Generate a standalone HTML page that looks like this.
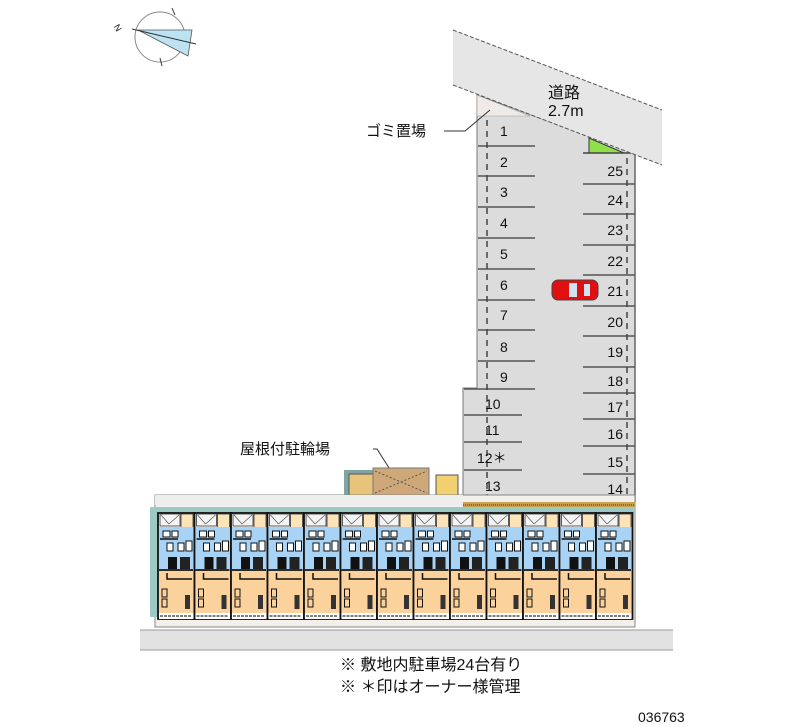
<!DOCTYPE html>
<html><head><meta charset="utf-8"><style>
html,body{margin:0;padding:0;background:#fff;}
svg{display:block;}
text{font-family:"Liberation Sans","Noto Sans CJK JP",sans-serif;fill:#111;}
</style></head><body>
<svg width="800" height="727" viewBox="0 0 800 727" xmlns="http://www.w3.org/2000/svg">
<defs>
<g id="unit">
  <rect x="0" y="0" width="36.5" height="106" fill="#fff" stroke="#111" stroke-width="1.8"/>
  <rect x="2" y="1" width="20" height="12" fill="#f4f4f4" stroke="#333" stroke-width="0.8"/>
  <line x1="3" y1="2" x2="11" y2="11" stroke="#555" stroke-width="0.7"/>
  <line x1="21" y1="2" x2="11" y2="11" stroke="#555" stroke-width="0.7"/>
  <rect x="23" y="1" width="12" height="20" fill="#fde4b8" stroke="#333" stroke-width="0.8"/>
  <rect x="1" y="14" width="34.5" height="42" fill="#a9d3f5"/>
  <rect x="5" y="18" width="7" height="6" fill="#fff" stroke="#111" stroke-width="1"/>
  <rect x="14" y="18" width="6" height="6" fill="#fff" stroke="#111" stroke-width="1"/>
  <rect x="9" y="30" width="6" height="8" fill="#fff" stroke="#111" stroke-width="1"/>
  <rect x="20" y="30" width="6" height="8" fill="#fff" stroke="#111" stroke-width="1"/>
  <rect x="28" y="28" width="6" height="10" fill="#fff" stroke="#111" stroke-width="1"/>
  <rect x="10" y="44" width="9" height="12" fill="#111"/>
  <rect x="22" y="44" width="10" height="12" fill="#222"/>
  <line x1="2" y1="26" x2="20" y2="26" stroke="#111" stroke-width="1.5"/>
  <rect x="1" y="57" width="34.5" height="43" fill="#fbd29b"/>
  <line x1="1" y1="57" x2="35" y2="57" stroke="#111" stroke-width="1.8"/>
  <polyline points="9,60 9,66 34,66" fill="none" stroke="#111" stroke-width="1.5"/>
  <rect x="4" y="76" width="5" height="8" fill="none" stroke="#111" stroke-width="1"/>
  <rect x="4" y="86" width="5" height="8" fill="none" stroke="#111" stroke-width="1"/>
  <rect x="27" y="82" width="5" height="14" fill="#333"/>
  <rect x="1" y="100" width="34.5" height="6" fill="#fff"/>
  <line x1="2" y1="103" x2="34" y2="103" stroke="#555" stroke-width="1.5" stroke-dasharray="3,1"/>
</g>
</defs>

<!-- compass -->
<circle cx="160" cy="37" r="25" fill="none" stroke="#888" stroke-width="1"/>
<polygon points="138,30 192,30 188,56" fill="#bde3f2" stroke="#555" stroke-width="0.8"/>
<line x1="132" y1="29" x2="196" y2="44" stroke="#333" stroke-width="1"/>
<line x1="172" y1="8" x2="175" y2="15" stroke="#444"/>
<line x1="160" y1="58" x2="162" y2="66" stroke="#444"/>
<text x="115" y="32" font-size="9" transform="rotate(60 119 28)">N</text>

<!-- lot -->
<polygon points="477,95 477,388 463,388 463,502 635,502 635,153 477,95" fill="#dcdcdc" stroke="#777" stroke-width="1"/>
<polygon points="477,95 530,116 477,116" fill="#efeae6" stroke="#999" stroke-width="0.6"/>
<polygon points="589,138 589,153 624,153" fill="#8fe04a" stroke="#333" stroke-width="1"/>
<line x1="583" y1="153" x2="635" y2="153" stroke="#444" stroke-width="1.5"/>
<line x1="635" y1="153" x2="635" y2="502" stroke="#666" stroke-width="1.5"/>

<!-- road -->
<polygon points="453,30 662,110 662,165 453,85" fill="#e6e6e6" stroke="none"/>
<line x1="453" y1="30" x2="662" y2="110" stroke="#555" stroke-width="1" stroke-dasharray="4,2"/>
<line x1="453" y1="85" x2="662" y2="165" stroke="#555" stroke-width="1" stroke-dasharray="4,2"/>
<text x="548" y="98" font-size="16">道路</text>
<text x="548" y="116" font-size="16">2.7m</text>

<g stroke="#555" stroke-width="1.5">
<line x1="478" y1="146" x2="535" y2="146"/><line x1="478" y1="176" x2="535" y2="176"/>
<line x1="478" y1="207" x2="535" y2="207"/><line x1="478" y1="238" x2="535" y2="238"/>
<line x1="478" y1="269" x2="535" y2="269"/><line x1="478" y1="300" x2="535" y2="300"/>
<line x1="478" y1="330" x2="535" y2="330"/><line x1="478" y1="361" x2="535" y2="361"/>
<line x1="464" y1="389" x2="535" y2="389"/><line x1="464" y1="415" x2="522" y2="415"/>
<line x1="464" y1="442" x2="522" y2="442"/><line x1="464" y1="470" x2="522" y2="470"/>
<line x1="464" y1="497" x2="522" y2="497"/>
<line x1="583" y1="184" x2="635" y2="184"/><line x1="583" y1="214" x2="635" y2="214"/>
<line x1="583" y1="245" x2="635" y2="245"/><line x1="583" y1="275" x2="635" y2="275"/>
<line x1="583" y1="306" x2="635" y2="306"/><line x1="583" y1="336" x2="635" y2="336"/>
<line x1="583" y1="367" x2="635" y2="367"/><line x1="583" y1="393" x2="635" y2="393"/>
<line x1="583" y1="419" x2="635" y2="419"/><line x1="583" y1="446" x2="635" y2="446"/>
<line x1="583" y1="474" x2="635" y2="474"/>
</g>
<line x1="487" y1="120" x2="487" y2="500" stroke="#444" stroke-width="1.5" stroke-dasharray="6,5"/>
<line x1="627" y1="158" x2="627" y2="500" stroke="#444" stroke-width="1.5" stroke-dasharray="6,5"/>

<g font-size="14">
<text x="500" y="136">1</text><text x="500" y="167">2</text><text x="500" y="197">3</text>
<text x="500" y="228">4</text><text x="500" y="259">5</text><text x="500" y="290">6</text>
<text x="500" y="320">7</text><text x="500" y="352">8</text><text x="500" y="382">9</text>
<text x="485" y="409">10</text><text x="485" y="435">11</text><text x="477" y="463">12＊</text>
<text x="485" y="491">13</text>
<g text-anchor="end">
<text x="623" y="176">25</text><text x="623" y="205">24</text><text x="623" y="235">23</text>
<text x="623" y="266">22</text><text x="623" y="296">21</text><text x="623" y="327">20</text>
<text x="623" y="357">19</text><text x="623" y="386">18</text><text x="623" y="412">17</text>
<text x="623" y="439">16</text><text x="623" y="467">15</text><text x="623" y="494">14</text>
</g></g>

<!-- car -->
<rect x="552" y="280" width="46" height="20" rx="6" fill="#e01010" stroke="#444" stroke-width="1"/>
<rect x="569" y="283" width="8" height="14" fill="#cfe4f2"/>
<rect x="584" y="284" width="6" height="12" fill="#cfe4f2"/>

<!-- labels -->
<text x="366" y="136" font-size="15">ゴミ置場</text>
<polyline points="444,131 465,131 490,110" fill="none" stroke="#333" stroke-width="1"/>
<text x="240" y="454" font-size="15">屋根付駐輪場</text>
<polyline points="373,449 377,449 398,482" fill="none" stroke="#333" stroke-width="1"/>

<!-- bike shelter -->
<rect x="344" y="470" width="30" height="25" fill="#7fa6a2"/>
<rect x="349" y="474" width="24" height="21" fill="#e8c47a" stroke="#555"/>
<rect x="373" y="468" width="56" height="27" fill="#cfa879" stroke="#777"/>
<line x1="375" y1="471" x2="427" y2="493" stroke="#555" stroke-dasharray="2,2"/>
<line x1="375" y1="493" x2="427" y2="471" stroke="#555" stroke-dasharray="2,2"/>
<rect x="436" y="475" width="22" height="20" fill="#f0d070" stroke="#555"/>

<!-- building -->
<rect x="155" y="495" width="480" height="132" fill="#f3f0ec" stroke="#888" stroke-width="1"/>
<rect x="155" y="495" width="308" height="10" fill="#eeeeee"/>
<rect x="463" y="502" width="172" height="6" fill="#c8a050"/>
<line x1="463" y1="505" x2="635" y2="505" stroke="#333" stroke-dasharray="1,1"/>
<rect x="155" y="507" width="480" height="6" fill="#9cc9c4"/>
<rect x="150" y="507" width="8" height="110" fill="#9cc9c4"/>
<use href="#unit" x="158" y="513"/><use href="#unit" x="194.5" y="513"/>
<use href="#unit" x="231" y="513"/><use href="#unit" x="267.5" y="513"/>
<use href="#unit" x="304" y="513"/><use href="#unit" x="340.5" y="513"/>
<use href="#unit" x="377" y="513"/><use href="#unit" x="413.5" y="513"/>
<use href="#unit" x="450" y="513"/><use href="#unit" x="486.5" y="513"/>
<use href="#unit" x="523" y="513"/><use href="#unit" x="559.5" y="513"/>
<use href="#unit" x="596" y="513"/>

<!-- ground -->
<rect x="140" y="630" width="533" height="20" fill="#e2e2e2"/>
<line x1="140" y1="630" x2="673" y2="630" stroke="#999"/>
<line x1="140" y1="650" x2="673" y2="650" stroke="#999"/>

<text x="340" y="670" font-size="16">※ 敷地内駐車場24台有り</text>
<text x="340" y="692" font-size="16">※ ＊印はオーナー様管理</text>
<text x="638" y="722" font-size="14">036763</text>
</svg>
</body></html>
